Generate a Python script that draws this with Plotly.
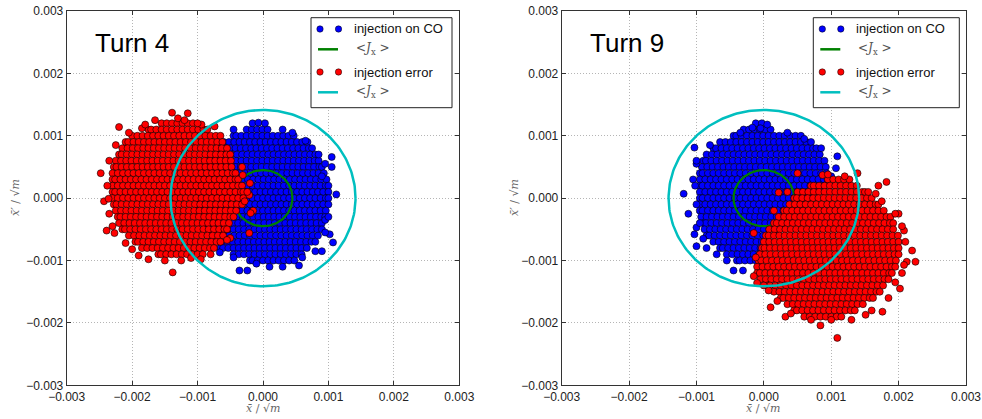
import numpy as np
import plotly.graph_objects as go

# ---------------- data (units of 1e-3 / sqrt(m)) ----------------
# Each cloud: y level, left edge, right edge
L_red_y    = [1.2, 1.1, 1.0, 0.9, 0.8, 0.7, 0.6, 0.5, 0.4, 0.3, 0.2, 0.1, 0.0, -0.1, -0.2, -0.3, -0.4, -0.5, -0.6, -0.7, -0.8, -0.9]
L_red_x0   = [-1.55, -1.75, -2.0, -2.1, -2.15, -2.2, -2.25, -2.28, -2.3, -2.3, -2.3, -2.3, -2.3, -2.28, -2.25, -2.22, -2.2, -2.15, -2.05, -1.95, -1.85, -1.6]
L_red_x1   = [-1.05, -0.85, -0.65, -0.6, -0.55, -0.5, -0.48, -0.45, -0.42, -0.38, -0.32, -0.3, -0.3, -0.32, -0.38, -0.45, -0.5, -0.55, -0.6, -0.65, -0.75, -0.9]
L_red_out_x = [-2.48, -2.43, -2.36, -2.39, -2.27, -1.75, -1.38, -1.39, -1.15, -1.3, -2.2, -1.85, -0.94, -0.74,
               -0.32, -0.31, -0.2, -0.21, -0.15, -0.21, -0.5, -0.24, -0.19, -0.28, -0.55,
               -1.9, -2.0, -2.1, -1.5, -1.25, -1.1, -0.95, -0.8, -1.8, -1.65, -1.2, -1.0, -2.05, -2.25, -2.35, -2.38, -2.35, -2.3]
L_red_out_y = [0.40, -0.05, -0.01, -0.52, -0.56, -0.98, -1.19, 1.37, 1.36, 1.28, 1.14, 1.12, 1.18, 1.15,
               0.50, 0.37, 0.24, 0.05, -0.20, -0.56, -0.64, 0.10, -0.24, -0.05, -0.67,
               -0.92, -0.82, -0.72, -1.0, -1.0, -0.96, -0.98, -0.9, 1.18, 1.25, 1.25, 1.2, 1.05, 0.85, 0.6, 0.2, -0.25, -0.45]

L_blue_y  = [1.1, 1.0, 0.9, 0.8, 0.7, 0.6, 0.5, 0.4, 0.3, 0.2, 0.1, 0.0, -0.1, -0.2, -0.3, -0.4, -0.5, -0.6, -0.7, -0.8, -0.9, -1.0]
L_blue_x0 = [-0.25, -0.45, -0.6, -0.7, -0.8, -0.85, -0.9, -0.95, -0.95, -1.0, -1.0, -1.0, -1.0, -1.0, -0.95, -0.9, -0.85, -0.8, -0.7, -0.65, -0.45, -0.2]
L_blue_x1 = [0.1, 0.5, 0.7, 0.75, 0.8, 0.85, 0.9, 0.95, 0.97, 1.0, 1.0, 1.0, 1.0, 0.97, 0.95, 0.92, 0.9, 0.85, 0.8, 0.7, 0.6, 0.5]
L_blue_out_x = [-0.16, -0.07, 0.03, 1.05, 1.05, 1.12, 1.07, 1.02, -0.36, -0.24, 0.9, 0.95, 0.9, 0.55, -0.66,
                -0.45, 0.3, 0.45, 0.65, 0.85, 0.95, 1.0, 0.95, 0.8, 0.6, 0.3, 0.1, -0.1, -0.45]
L_blue_out_y = [1.20, 1.21, 1.20, 0.66, 0.50, 0.06, -0.71, -0.58, -1.16, -1.16, 0.35, -0.35, -0.85, -1.08, -0.87,
                1.1, 1.1, 1.05, 0.92, 0.7, 0.55, -0.3, -0.55, -0.85, -0.95, -1.1, -1.1, -1.05, -0.95]

R_blue_y  = [1.1, 1.0, 0.9, 0.8, 0.7, 0.6, 0.5, 0.4, 0.3, 0.2, 0.1, 0.0, -0.1, -0.2, -0.3, -0.4, -0.5, -0.6, -0.7, -0.8, -0.9, -1.0]
R_blue_x0 = [-0.3, -0.45, -0.65, -0.75, -0.85, -0.9, -0.92, -0.95, -0.95, -0.95, -0.95, -0.95, -0.95, -0.95, -0.93, -0.9, -0.88, -0.85, -0.75, -0.65, -0.55, -0.4]
R_blue_x1 = [0.1, 0.55, 0.7, 0.78, 0.85, 0.9, 0.92, 0.95, 0.95, 0.9, 0.8, 0.7, 0.6, 0.5, 0.4, 0.3, 0.2, 0.1, 0.05, 0.0, -0.05, -0.1]
R_blue_out_x = [-0.12, -0.03, 0.05, -0.17, -0.05, -1.03, -1.19, -1.12, -1.05, -1.0, -1.0, -1.03, -0.9, -1.0, -0.45, -0.31, 1.09, 1.07, 1.0,
                -0.35, 0.35, 0.6, 0.85, -0.8, -1.0, -1.02, -1.0, -0.95, -0.85, -0.7, -0.55]
R_blue_out_y = [1.20, 1.20, 1.18, 1.13, 1.12, 0.81, 0.07, -0.25, 0.30, 0.55, -0.47, -0.58, -0.65, -0.77, -1.16, -1.16, 0.67, 0.48, 0.35,
                1.05, 1.05, 0.95, 0.8, 0.85, 0.6, 0.2, -0.1, -0.4, -0.8, -0.9, -1.0]

R_red_y  = [0.3, 0.2, 0.1, 0.0, -0.1, -0.2, -0.3, -0.4, -0.5, -0.6, -0.7, -0.8, -0.9, -1.0, -1.1, -1.2, -1.3, -1.4, -1.5, -1.6, -1.7, -1.8, -1.9]
R_red_x0 = [0.95, 0.7, 0.5, 0.45, 0.38, 0.3, 0.22, 0.15, 0.08, 0.03, 0.0, -0.03, -0.06, -0.08, -0.1, -0.1, -0.05, 0.05, 0.15, 0.25, 0.35, 0.45, 0.6]
R_red_x1 = [1.3, 1.4, 1.5, 1.6, 1.7, 1.8, 1.88, 1.92, 1.95, 2.0, 2.0, 2.0, 2.0, 1.98, 1.95, 1.9, 1.85, 1.8, 1.72, 1.62, 1.5, 1.35, 1.15]
R_red_out_x = [0.84, 1.09, 2.25, 2.2, 2.12, 2.08, 2.08, 2.0, 1.66, 1.82, 1.39, 0.5, 0.87, 0.22, -0.15, -0.1, 0.07, 0.1, 0.32, 1.51, 1.76, 2.02, 1.7,
               0.95, 1.2, 1.55, 1.75, 1.95, 2.05, 2.1, 2.05, 1.95, 1.85, 1.6, 1.3, 1.0, 0.7, 0.4, 0.2, 0.0, -0.15, -0.12, 0.15, 0.35]
R_red_out_y = [-2.04, -2.24, -1.02, -0.84, -1.02, -1.07, -0.52, -0.25, 0.07, 0.26, 0.40, 0.40, 0.37, 0.09, -0.56, -1.36, -1.48, -1.75, -1.90, -1.87, -1.82, -1.45, 0.2,
               0.38, 0.35, 0.1, -0.05, -0.25, -0.45, -0.7, -1.2, -1.35, -1.6, -1.8, -1.95, -1.95, -1.95, -1.85, -1.65, -1.4, -1.25, -0.95, -0.2, 0.1]

J_inner = 0.45    # green <J_x> radius
J_outer = 1.414   # cyan <J_x> radius

SCALE = 1e-3
W, H = 982, 419

def cloud(ys, x0s, x1s, ox, oy, dx=0.08):
    xs, yy = [], []
    for i, (y, a, b) in enumerate(zip(ys, x0s, x1s)):
        off = dx / 2 if i % 2 else 0.0
        row = list(np.arange(a + off, b + 1e-9, dx))
        if not row or abs(row[-1] - b) > dx * 0.4:
            row.append(b)
        if abs(row[0] - a) > dx * 0.4:
            row.insert(0, a)
        xs += row
        yy += [y] * len(row)
    xs += ox
    yy += oy
    return np.array(xs) * SCALE, np.array(yy) * SCALE

theta = np.linspace(0, 2 * np.pi, 241)

def circ(r):
    return r * SCALE * np.cos(theta), r * SCALE * np.sin(theta)

fig = go.Figure()
mk = lambda c: dict(size=7, color=c, line=dict(color="black", width=0.6))

panels = [
    ("x", "y", (L_blue_y, L_blue_x0, L_blue_x1, L_blue_out_x, L_blue_out_y),
     (L_red_y, L_red_x0, L_red_x1, L_red_out_x, L_red_out_y)),
    ("x2", "y2", (R_blue_y, R_blue_x0, R_blue_x1, R_blue_out_x, R_blue_out_y),
     (R_red_y, R_red_x0, R_red_x1, R_red_out_x, R_red_out_y)),
]
for xa, ya, blue, red in panels:
    bx, by = cloud(*blue)
    rx, ry = cloud(*red)
    fig.add_trace(go.Scatter(x=bx, y=by, mode="markers", marker=mk("#0000ff"), xaxis=xa, yaxis=ya, showlegend=False, hoverinfo="skip"))
    gx, gy = circ(J_inner)
    fig.add_trace(go.Scatter(x=gx, y=gy, mode="lines", line=dict(color="#008000", width=2.2), xaxis=xa, yaxis=ya, showlegend=False, hoverinfo="skip"))
    fig.add_trace(go.Scatter(x=rx, y=ry, mode="markers", marker=mk("#ff0000"), xaxis=xa, yaxis=ya, showlegend=False, hoverinfo="skip"))
    cx, cy = circ(J_outer)
    fig.add_trace(go.Scatter(x=cx, y=cy, mode="lines", line=dict(color="#00bfbf", width=2.5), xaxis=xa, yaxis=ya, showlegend=False, hoverinfo="skip"))

ticks = [-0.003, -0.002, -0.001, 0.0, 0.001, 0.002, 0.003]
tick_text = ["\u22120.003", "\u22120.002", "\u22120.001", "0.000", "0.001", "0.002", "0.003"]

def ax(domain, anchor):
    return dict(domain=domain, anchor=anchor, range=[-0.003, 0.003], tickvals=ticks, ticktext=tick_text,
                showgrid=True, gridcolor="#b5b5b5", griddash="1px,2px", gridwidth=1, zeroline=False,
                showline=True, linecolor="#333", linewidth=1, mirror="ticks", ticks="inside", ticklen=4,
                tickcolor="#333", tickfont=dict(family="Liberation Sans", size=12, color="#222"),
                fixedrange=True, automargin=False)

yd = [1 - 385.3 / H, 1 - 11 / H]
fig.update_layout(
    width=W, height=H, margin=dict(l=0, r=0, t=0, b=0),
    paper_bgcolor="white", plot_bgcolor="white", showlegend=False,
    xaxis=ax([66.7 / W, 459.3 / W], "y"),
    yaxis=ax(yd, "x"),
    xaxis2=ax([561.7 / W, 966 / W], "y2"),
    yaxis2=ax(yd, "x2"),
)

def px(x): return x / W
def py(y): return 1 - y / H

shapes, annos = [], []
labels = ["injection on CO", "&lt;<i>J</i><sub>x</sub> &gt;", "injection error", "&lt;<i>J</i><sub>x</sub> &gt;"]
kinds = [("dot", "#0000ff"), ("line", "#008000"), ("dot", "#ff0000"), ("line", "#00bfbf")]
rows = [29, 49.3, 72, 92.3]
for (bx0, bx1, tx, title) in [(311, 452, 93, "Turn 4"), (813.3, 959.3, 588, "Turn 9")]:
    shapes.append(dict(type="rect", xref="paper", yref="paper", x0=px(bx0), x1=px(bx1), y0=py(107.7), y1=py(17.7),
                       line=dict(color="#222", width=1), fillcolor="white", layer="above"))
    for (kind, col), lab, ry in zip(kinds, labels, rows):
        if kind == "dot":
            for cxp in (bx0 + 9, bx0 + 27.5):
                shapes.append(dict(type="circle", xref="paper", yref="paper", x0=px(cxp - 3.2), x1=px(cxp + 3.2),
                                   y0=py(ry + 3.2), y1=py(ry - 3.2), fillcolor=col, line=dict(color="black", width=0.5), layer="above"))
            annos.append(dict(x=px(bx0 + 41), y=py(ry), xref="paper", yref="paper", text=lab, showarrow=False,
                              xanchor="left", yanchor="middle", font=dict(family="Liberation Sans", size=13, color="#111")))
        else:
            shapes.append(dict(type="line", xref="paper", yref="paper", x0=px(bx0 + 7), x1=px(bx0 + 27),
                               y0=py(ry), y1=py(ry), line=dict(color=col, width=2.5), layer="above"))
            annos.append(dict(x=px(bx0 + 43), y=py(ry), xref="paper", yref="paper", text=lab, showarrow=False,
                              xanchor="left", yanchor="middle", font=dict(family="DejaVu Serif", size=12, color="#555")))
    annos.append(dict(x=px(tx), y=py(43), xref="paper", yref="paper", text=title, showarrow=False,
                      xanchor="left", yanchor="middle", font=dict(family="Liberation Sans", size=26, color="black")))

for cx in (263, 763.3):
    annos.append(dict(x=px(cx), y=py(408), xref="paper", yref="paper", text="<i>x̄</i> / √<i>m</i>", showarrow=False,
                      xanchor="center", yanchor="middle", font=dict(family="DejaVu Serif", size=11, color="#666")))
for cx in (15, 514):
    annos.append(dict(x=px(cx), y=py(198), xref="paper", yref="paper", text="<i>x̄′</i> / √<i>m</i>", showarrow=False,
                      textangle=-90, xanchor="center", yanchor="middle", font=dict(family="DejaVu Serif", size=11, color="#666")))

fig.update_layout(shapes=shapes, annotations=annos)
fig.write_html("out.html")
